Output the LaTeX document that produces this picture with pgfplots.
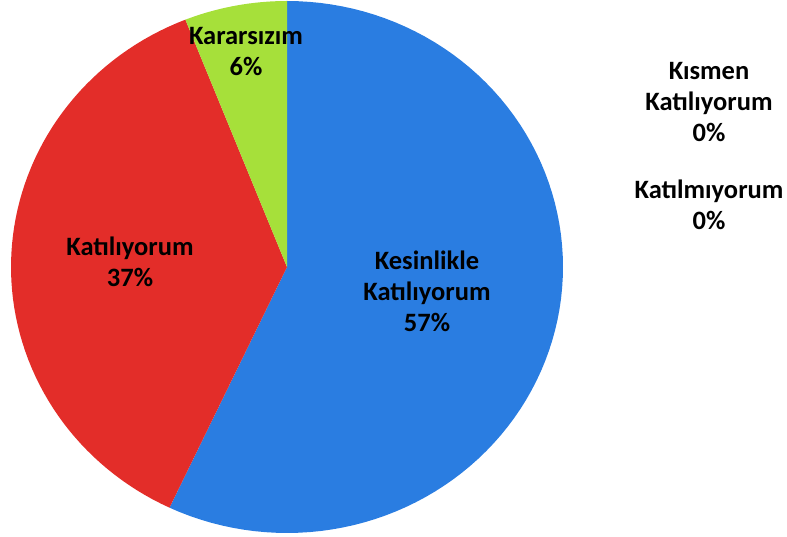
\documentclass[border=0pt]{standalone}
\usepackage{pgfplots}
\pgfplotsset{compat=1.18}
\usepackage{fontspec}
\setmainfont{Carlito}

\definecolor{cBlue}{HTML}{2A7DE1}
\definecolor{cRed}{HTML}{E32D29}
\definecolor{cGreen}{HTML}{A6E03A}

% shares in percent
\def\pKesin{57}
\def\pKatil{37}
\def\pKarar{6}
\def\pKismen{0}
\def\pKatilmiyor{0}

% slice angles, clockwise from the top
\pgfmathsetmacro\aA{90}
\pgfmathsetmacro\aB{\aA-3.6*\pKesin}
\pgfmathsetmacro\aC{\aB-3.6*\pKatil}
\pgfmathsetmacro\aD{\aC-3.6*\pKarar}

\tikzset{lbl/.style={font=\fontsize{26.5}{31}\selectfont\bfseries, align=center, text=black, inner sep=0pt}}

\begin{document}
\begin{tikzpicture}
\begin{axis}[
  scale only axis, width=787pt, height=537pt,
  xmin=-287, xmax=500, ymin=-270, ymax=267,
  hide axis,
]
\path (rel axis cs:0,0) rectangle (rel axis cs:1,1);
% Kesinlikle Katiliyorum
\addplot[fill=cBlue, draw=none, domain=\aB:\aA, samples=90, variable=\t]
  ({276*cos(\t)}, {266*sin(\t)}) -- (axis cs:0,0) -- cycle;
% Katiliyorum
\addplot[fill=cRed, draw=none, domain=\aC:\aB, samples=70, variable=\t]
  ({276*cos(\t)}, {266*sin(\t)}) -- (axis cs:0,0) -- cycle;
% Kararsizim
\addplot[fill=cGreen, draw=none, domain=\aD:\aC, samples=20, variable=\t]
  ({276*cos(\t)}, {266*sin(\t)}) -- (axis cs:0,0) -- cycle;

\node[lbl] at (axis cs:140,-24) {Kesinlikle\\Katılıyorum\\\pKesin\%};
\node[lbl] at (axis cs:-157,5) {Katılıyorum\\\pKatil\%};
\node[lbl] at (axis cs:-41,215) {Kararsızım\\\pKarar\%};
\node[lbl] at (axis cs:422,165) {Kısmen\\Katılıyorum\\\pKismen\%};
\node[lbl] at (axis cs:422,62) {Katılmıyorum\\\pKatilmiyor\%};
\end{axis}
\end{tikzpicture}
\end{document}
